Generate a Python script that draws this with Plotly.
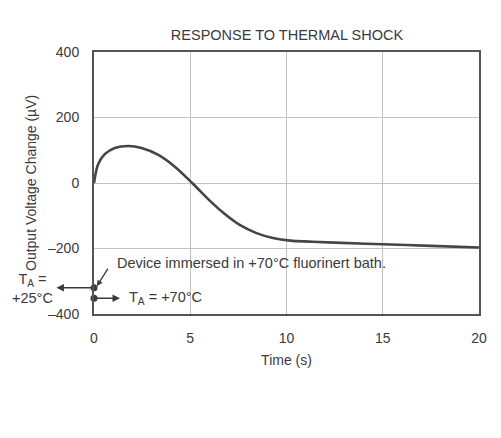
import plotly.graph_objects as go

# Data
time_s = [0, 0.22, 0.56, 1.08, 1.78, 2.47, 3.34, 4.2, 5.1, 6.0, 6.7, 7.57, 8.44,
          9.3, 10.2, 11.2, 12.5, 15.0, 17.5, 20.0]
voltage_uv = [0, 58, 88, 107, 113, 107, 86, 50, 0, -53, -90, -128, -153,
              -168, -176, -179, -182, -187, -192, -197]

x_ticks = [0, 5, 10, 15, 20]
x_tick_labels = ["0", "5", "10", "15", "20"]
y_ticks = [400, 200, 0, -200, -400]
y_tick_labels = ["400", "200", "0", "\u2013200", "\u2013400"]

event_t = [0, 0]
event_v = [-320, -352]

FONT = "Liberation Sans, Arial, sans-serif"
INK = "#3a3a3a"

# page has an 8px body margin, so the figure is sized to fit the window
W, H = 493, 430

fig = go.Figure()
fig.add_trace(go.Scatter(
    x=time_s, y=voltage_uv, mode="lines",
    line=dict(color="#454545", width=2.6, shape="spline", smoothing=1.0),
    hoverinfo="skip", showlegend=False,
))
fig.add_trace(go.Scatter(
    x=event_t, y=event_v, mode="markers",
    marker=dict(color="#3a3a3a", size=7),
    cliponaxis=False, hoverinfo="skip", showlegend=False,
))

annotations = [
    # y-axis title
    dict(x=0, y=0, xref="x", yref="y", text="Output Voltage Change (\u00b5V)",
         textangle=-90, showarrow=False, xanchor="center", yanchor="middle",
         xshift=-63, font=dict(size=14, color=INK, family=FONT)),
    # device annotation text
    dict(x=1.07, y=-244, xref="x", yref="y",
         text="Device immersed in +70\u00b0C fluorinert bath.",
         showarrow=False, xanchor="left", yanchor="middle",
         font=dict(size=14.5, color=INK, family=FONT)),
    # device arrow
    dict(x=0.15, y=-315, xref="x", yref="y", ax=12, ay=-19, text="",
         showarrow=True, arrowhead=2, arrowsize=0.9, arrowwidth=1.3, arrowcolor=INK),
    # left arrow (T_A = +25°C)
    dict(x=-1.95, y=-320, xref="x", yref="y", ax=0, ay=-320, axref="x", ayref="y",
         text="", showarrow=True, arrowhead=2, arrowsize=1, arrowwidth=1.5, arrowcolor=INK),
    dict(x=0, y=-323, xref="x", yref="y", text="T<sub>A</sub> =<br>+25\u00b0C",
         showarrow=False, xanchor="center", yanchor="middle", align="center",
         xshift=-62, font=dict(size=14.5, color=INK, family=FONT)),
    # right arrow (T_A = +70°C)
    dict(x=1.35, y=-352, xref="x", yref="y", ax=0, ay=-352, axref="x", ayref="y",
         text="", showarrow=True, arrowhead=2, arrowsize=1, arrowwidth=1.5, arrowcolor=INK),
    dict(x=1.72, y=-352, xref="x", yref="y", text="T<sub>A</sub> = +70\u00b0C",
         showarrow=False, xanchor="left", yanchor="middle",
         font=dict(size=14.5, color=INK, family=FONT)),
]

fig.update_layout(
    width=W, height=H,
    margin=dict(l=86, r=22, t=44, b=124, autoexpand=False),
    paper_bgcolor="white", plot_bgcolor="white",
    font=dict(family=FONT, size=14, color=INK),
    title=dict(text="RESPONSE TO THERMAL SHOCK", x=279 / W, xanchor="center",
               y=1 - 27 / H, yanchor="middle",
               font=dict(size=14.5, color=INK, family=FONT)),
    annotations=annotations,
    showlegend=False,
)
fig.update_xaxes(
    range=[0, 20], tickvals=x_ticks, ticktext=x_tick_labels,
    showgrid=True, gridcolor="#c2c2c2", gridwidth=1, zeroline=False,
    showline=True, mirror=True, linecolor="#555555", linewidth=2,
    ticks="", ticklabelstandoff=10,
    tickfont=dict(size=14, color=INK, family=FONT),
    title=dict(text="Time (s)", standoff=10, font=dict(size=14, color=INK, family=FONT)),
)
fig.update_yaxes(
    range=[-400, 400], tickvals=y_ticks, ticktext=y_tick_labels,
    showgrid=True, gridcolor="#c2c2c2", gridwidth=1, zeroline=False,
    showline=True, mirror=True, linecolor="#555555", linewidth=2,
    ticks="", ticklabelstandoff=10,
    tickfont=dict(size=14, color=INK, family=FONT),
)

fig.write_html("out.html")
